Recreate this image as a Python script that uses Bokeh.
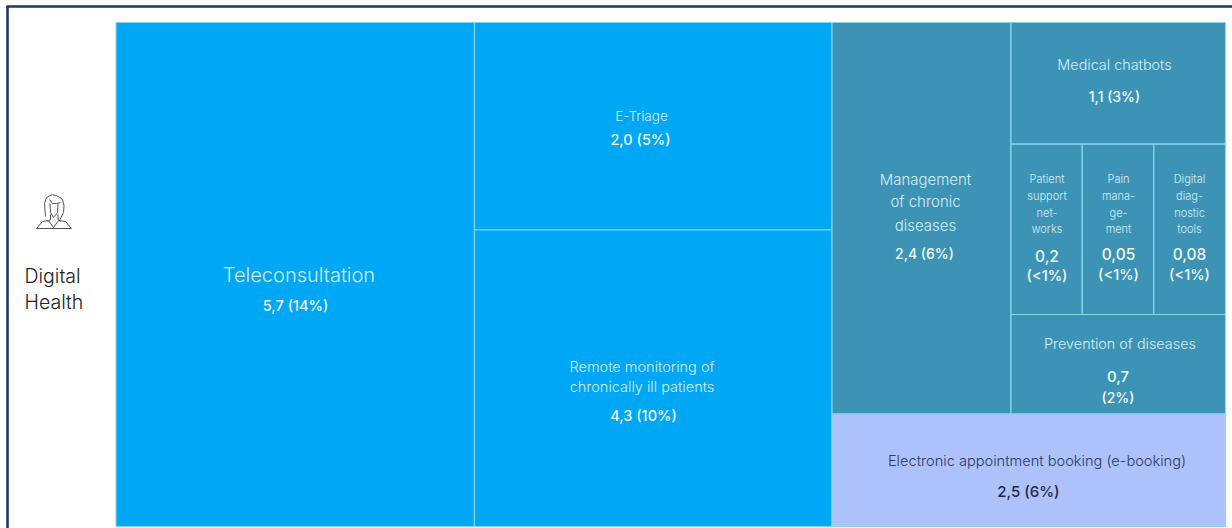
from bokeh.core.properties import value
from bokeh.embed import file_html
from bokeh.models import ColumnDataSource, Range1d
from bokeh.plotting import figure
from bokeh.resources import INLINE

# Drawn tile areas (thousands of square pixels), one per topic.
tele_area = 180.68
triage_area = 74.18
remote_area = 106.0
chronic_area = 70.08
chatbot_area = 26.1
patient_area = 12.13
pain_area = 12.19
diag_area = 12.21
prevention_area = 21.34
booking_area = 44.27

TEAL, SKY, PERIWINKLE = "#3D93B5", "#00A7F5", "#ADC2FA"

# Slice-and-dice tree: "h" splits left to right, "v" splits top to bottom.
tree = ("h", [
    ("tele", tele_area, SKY),
    ("v", [("triage", triage_area, SKY), ("remote", remote_area, SKY)]),
    ("v", [
        ("h", [
            ("chronic", chronic_area, TEAL),
            ("v", [
                ("chatbot", chatbot_area, TEAL),
                ("h", [("patient", patient_area, TEAL),
                       ("pain", pain_area, TEAL),
                       ("diag", diag_area, TEAL)]),
                ("prevention", prevention_area, TEAL),
            ]),
        ]),
        ("booking", booking_area, PERIWINKLE),
    ]),
])

LEFT, TOP, RIGHT, BOTTOM = 115.5, 22.0, 1225.0, 526.0


def weight(node):
    return sum(weight(c) for c in node[1]) if node[0] in ("h", "v") else node[1]


def slice_tiles(node, x0, y0, x1, y1, out):
    if node[0] not in ("h", "v"):
        out.append((node[0], x0, y0, x1, y1, node[2]))
        return
    total = weight(node)
    pos = x0 if node[0] == "h" else y0
    span = (x1 - x0) if node[0] == "h" else (y1 - y0)
    for child in node[1]:
        step = span * weight(child) / total
        if node[0] == "h":
            slice_tiles(child, pos, y0, pos + step, y1, out)
        else:
            slice_tiles(child, x0, pos, x1, pos + step, out)
        pos += step


tiles = []
slice_tiles(tree, LEFT, TOP, RIGHT, BOTTOM, tiles)

p = figure(width=1232, height=528, output_backend="svg", toolbar_location=None,
           x_range=Range1d(0, 1232), y_range=Range1d(528, 0),
           min_border=0, outline_line_color=None, background_fill_color="white")
p.xaxis.visible = False
p.yaxis.visible = False
p.grid.visible = False

# Frame along the top and left of the panel
p.multi_line(xs=[[6, 1232], [7, 7]], ys=[[6, 6], [6, 528]], line_color="#1C3670", line_width=2.6)

src = ColumnDataSource(dict(
    left=[t[1] for t in tiles], top=[t[2] for t in tiles],
    right=[t[3] for t in tiles], bottom=[t[4] for t in tiles],
    fill=[t[5] for t in tiles],
))
p.quad(left="left", right="right", top="top", bottom="bottom", source=src,
       fill_color="fill", line_color="#86D6EA", line_width=1.2)

LIGHT, MEDIUM = "Inter Light", "Inter Medium"
PALE, WHITE, NAVY, INK = "#D2EEF8", "#EFFAFE", "#2C3A6B", "#1E2748"

# Text rows: x centre, y centre, text, size, font, colour
rows = [
    (298.5, 274, "Teleconsultation", 20, LIGHT, PALE),
    (295, 305, "5,7 (14%)", 14.5, MEDIUM, WHITE),
    (641, 115, "E-Triage", 13.5, LIGHT, PALE),
    (640, 139, "2,0 (5%)", 14.5, MEDIUM, WHITE),
    (641.5, 366, "Remote monitoring of", 14.5, LIGHT, PALE),
    (641.5, 386, "chronically ill patients", 14.5, LIGHT, PALE),
    (643, 415, "4,3 (10%)", 14.5, MEDIUM, WHITE),
    (925, 179, "Management", 15, LIGHT, PALE),
    (925, 201, "of chronic", 15, LIGHT, PALE),
    (925, 225, "diseases", 15, LIGHT, PALE),
    (924, 253, "2,4 (6%)", 14, MEDIUM, WHITE),
    (1114, 64, "Medical chatbots", 14.4, LIGHT, PALE),
    (1114, 96, "1,1 (3%)", 14, MEDIUM, WHITE),
    (1046.5, 178, "Patient", 11, LIGHT, PALE),
    (1046.5, 195, "support", 11, LIGHT, PALE),
    (1046.5, 212, "net-", 11, LIGHT, PALE),
    (1046.5, 228, "works", 11, LIGHT, PALE),
    (1046.5, 255, "0,2", 15.5, MEDIUM, WHITE),
    (1046.5, 275, "(<1%)", 14.5, MEDIUM, WHITE),
    (1118, 178, "Pain", 11, LIGHT, PALE),
    (1118, 195, "mana-", 11, LIGHT, PALE),
    (1118, 212, "ge-", 11, LIGHT, PALE),
    (1118, 228, "ment", 11, LIGHT, PALE),
    (1118, 253, "0,05", 15.5, MEDIUM, WHITE),
    (1118, 274, "(<1%)", 14.5, MEDIUM, WHITE),
    (1189, 178, "Digital", 11, LIGHT, PALE),
    (1189, 195, "diag-", 11, LIGHT, PALE),
    (1189, 212, "nostic", 11, LIGHT, PALE),
    (1189, 228, "tools", 11, LIGHT, PALE),
    (1189, 253, "0,08", 15.5, MEDIUM, WHITE),
    (1189, 274, "(<1%)", 14.5, MEDIUM, WHITE),
    (1119.5, 343, "Prevention of diseases", 14.4, LIGHT, PALE),
    (1117.5, 376, "0,7", 15, MEDIUM, WHITE),
    (1117.5, 397, "(2%)", 14, MEDIUM, WHITE),
    (1036.5, 460, "Electronic appointment booking (e-booking)", 14.6, LIGHT, NAVY),
    (1028, 490.5, "2,5 (6%)", 15, MEDIUM, INK),
]
for x, y, txt, size, font, colour in rows:
    p.text(x=[x], y=[y], text=[txt], text_font=value(font), text_font_size=f"{size}px",
           text_color=colour, text_align="center", text_baseline="middle")

# Row heading at the left of the treemap
for y, txt in [(275.5, "Digital"), (301.5, "Health")]:
    p.text(x=[24], y=[y], text=[txt], text_font=value("Inter Light"), text_font_size="19.5px",
           text_color="#222222", text_align="left", text_baseline="middle")

# Outline pictogram of a person above the heading
person_xs = [
    [45, 44, 46, 52, 58, 62, 63.5, 63, 59],
    [49, 52, 56, 60],
    [49.5, 50, 53, 57, 57.5],
    [50, 50, 47],
    [57.5, 57.5, 60],
    [36, 42, 48, 53, 58, 65, 71, 36],
]
person_ys = [
    [216, 203, 197, 194, 196, 199, 205, 212, 220],
    [199, 203, 203, 202],
    [203, 212, 217, 212, 203],
    [214, 219, 221],
    [214, 219, 221],
    [228, 221, 220, 227, 220, 221, 228, 228],
]
p.multi_line(xs=person_xs, ys=person_ys, line_color="#555555", line_width=1)

open("out.html", "w").write(file_html(p, INLINE))
